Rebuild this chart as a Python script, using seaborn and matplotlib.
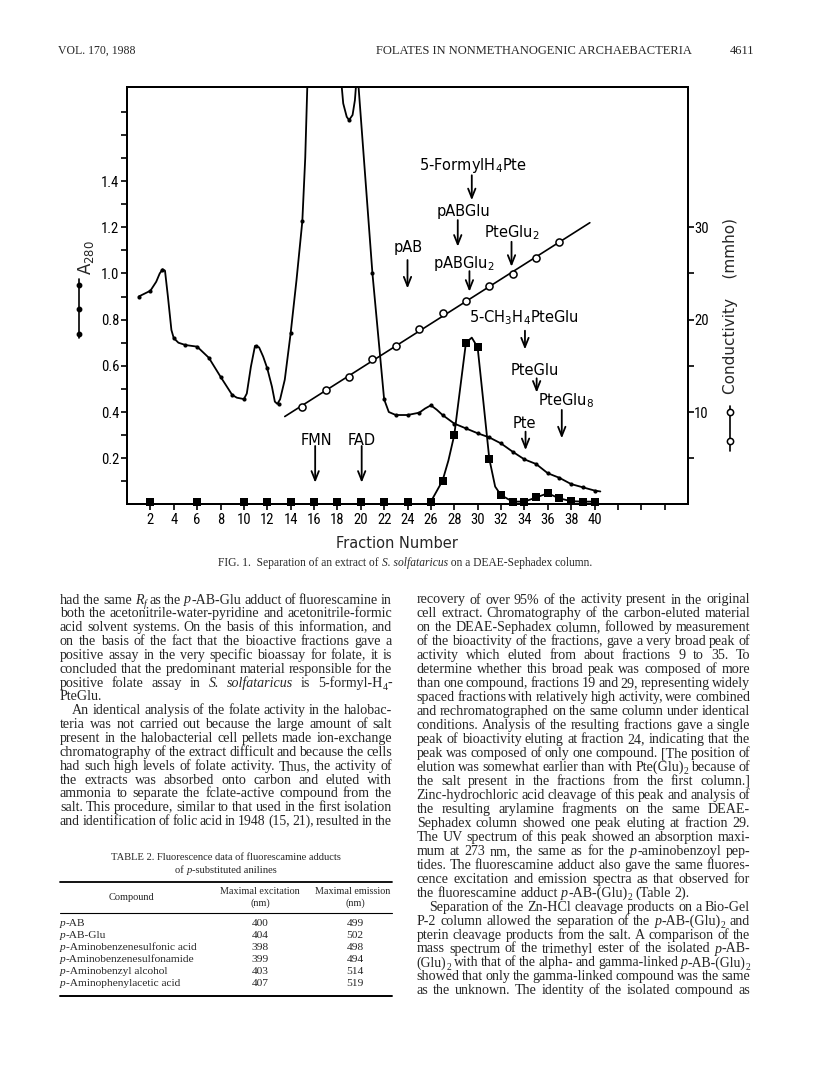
import re
import numpy as np
import pandas as pd
import matplotlib
matplotlib.use("Agg")
import matplotlib.pyplot as plt
from matplotlib.lines import Line2D
from matplotlib.transforms import IdentityTransform
import seaborn as sns

# ---- FIG. 1 data ----
# A280 (small dots), fraction number -> absorbance
a280_frac = [1, 2, 3, 4, 5, 6, 7, 8, 9, 10, 11, 12, 13, 14, 15, 19,
             21, 22, 23, 24, 25, 26, 27, 28, 29, 30, 31, 32, 33, 34, 35, 36, 37, 38, 39, 40]
a280_val = [0.90, 0.925, 1.015, 0.72, 0.69, 0.683, 0.635, 0.553, 0.474, 0.456, 0.686, 0.589, 0.435, 0.74, 1.225, 1.664,
            1.0, 0.455, 0.387, 0.387, 0.397, 0.429, 0.387, 0.35, 0.329, 0.308, 0.29, 0.264, 0.228, 0.195, 0.175, 0.135,
            0.115, 0.088, 0.074, 0.06]

# the hand drawn A280 trace, it leaves the top of the plot twice
trace1_frac = [1, 2, 2.5, 2.8, 3.05, 3.25, 3.5, 3.8, 4, 4.4, 5, 6, 7, 8, 9, 9.4, 10, 10.25, 10.6, 10.95,
               11.3, 11.65, 12, 12.4, 12.65, 12.86, 13.1, 13.5, 14, 14.5, 15, 15.25, 15.45]
trace1_val = [0.90, 0.925, 0.964, 1.0, 1.018, 1.012, 0.90, 0.755, 0.72, 0.70, 0.69, 0.683, 0.635, 0.553, 0.474, 0.462,
              0.456, 0.48, 0.596, 0.686, 0.68, 0.64, 0.589, 0.51, 0.445, 0.435, 0.455, 0.54, 0.74, 0.97, 1.225, 1.5, 1.85]
trace2_frac = [18.3, 18.5, 18.8, 19.0, 19.3, 19.5, 19.65]
trace2_val = [1.85, 1.736, 1.678, 1.664, 1.686, 1.75, 1.85]
trace3_frac = [19.75, 21, 22, 22.4, 23, 24, 25, 25.5, 26, 26.5, 27, 28, 29, 30, 31, 32, 33, 34, 35, 36, 37,
               38, 39, 40, 40.5]
trace3_val = [1.85, 1.0, 0.455, 0.40, 0.387, 0.387, 0.397, 0.415, 0.429, 0.41, 0.387, 0.35, 0.329, 0.308, 0.29,
              0.264, 0.228, 0.195, 0.175, 0.135, 0.115, 0.088, 0.074, 0.06, 0.056]

# bioactivity (filled squares), plotted on the A280 scale
bio_frac = [2, 6, 10, 12, 14, 16, 18, 20, 22, 24, 26, 27, 28, 29, 30, 31, 32, 33, 34, 35, 36, 37, 38, 39, 40]
bio_val = [0.012, 0.012, 0.012, 0.012, 0.012, 0.012, 0.012, 0.012, 0.012, 0.012, 0.012, 0.103, 0.30, 0.70, 0.68,
           0.197, 0.04, 0.012, 0.012, 0.03, 0.048, 0.026, 0.014, 0.012, 0.012]
bio_trace_frac = [26, 27, 27.5, 28, 28.5, 29, 29.5, 30, 30.5, 31, 31.5, 32, 33, 34, 35, 36, 37, 38, 39, 40]
bio_trace_val = [0.012, 0.103, 0.19, 0.30, 0.50, 0.70, 0.722, 0.68, 0.44, 0.197, 0.077, 0.04, 0.012, 0.012, 0.03,
                 0.048, 0.026, 0.014, 0.012, 0.012]

# conductivity (open circles) and the span of the straight line through them
cond_frac = [15, 17, 19, 21, 23, 25, 27, 29, 31, 33, 35, 37]
cond_val = [10.5, 12.35, 13.8, 15.7, 17.1, 18.95, 20.7, 22.0, 23.6, 24.9, 26.7, 28.4]
cond_line_frac = [13.5, 39.6]

x_ticks = [2, 4, 6, 8, 10, 12, 14, 16, 18, 20, 22, 24, 26, 28, 30, 32, 34, 36, 38, 40, 42, 44, 46]
x_tick_labels = ["2", "4", "6", "8", "10", "12", "14", "16", "18", "20", "22", "24", "26", "28", "30", "32",
                 "34", "36", "38", "40", "", "", ""]
y_ticks = [0.1, 0.2, 0.3, 0.4, 0.5, 0.6, 0.7, 0.8, 0.9, 1.0, 1.1, 1.2, 1.3, 1.4, 1.5, 1.6, 1.7]
y_tick_labels = ["", "0.2", "", "0.4", "", "0.6", "", "0.8", "", "1.0", "", "1.2", "", "1.4", "", "", ""]
cond_ticks = [5, 10, 15, 20, 25, 30]
cond_tick_labels = ["", "10", "", "20", "", "30"]

# elution positions of the standards: label, text x, text y, arrow x, arrow from, arrow to
standards = [
    (r"5-Formyl$\mathsf{H_4}$Pte", 29.6, 1.447, 29.5, 1.425, 1.317),
    ("pABGlu", 28.8, 1.249, 28.3, 1.231, 1.116),
    (r"PteGl$\mathsf{u_2}$", 32.9, 1.158, 32.9, 1.137, 1.029),
    ("pAB", 24.1, 1.094, 24.0, 1.058, 0.935),
    (r"pABGl$\mathsf{u_2}$", 28.8, 1.022, 29.3, 1.010, 0.921),
    (r"5-C$\mathsf{H_3H_4}$PteGlu", 34.0, 0.788, 34.05, 0.752, 0.671),
    ("PteGlu", 34.9, 0.560, 35.05, 0.546, 0.484),
    (r"PteGl$\mathsf{u_8}$", 37.6, 0.430, 37.2, 0.409, 0.286),
    ("Pte", 34.0, 0.329, 34.1, 0.315, 0.235),
    ("FMN", 16.2, 0.257, 16.1, 0.253, 0.094),
    ("FAD", 20.1, 0.257, 20.08, 0.253, 0.094),
]

# TABLE 2  (*...* = italic, _{...} = subscript)
table_compound = ["*p*-AB", "*p*-AB-Glu", "*p*-Aminobenzenesulfonic acid", "*p*-Aminobenzenesulfonamide",
                  "*p*-Aminobenzyl alcohol", "*p*-Aminophenylacetic acid"]
table_excitation = [400, 404, 398, 399, 403, 407]
table_emission = [499, 502, 498, 494, 514, 519]

left_lines = [
    "had the same *R*_{*f*} as the *p*-AB-Glu adduct of fluorescamine in",
    "both the acetonitrile-water-pyridine and acetonitrile-formic",
    "acid solvent systems. On the basis of this information, and",
    "on the basis of the fact that the bioactive fractions gave a",
    "positive assay in the very specific bioassay for folate, it is",
    "concluded that the predominant material responsible for the",
    "positive folate assay in *S.* *solfataricus* is 5-formyl-H_{4}-",
    "PteGlu.",
    "An identical analysis of the folate activity in the halobac-",
    "teria was not carried out because the large amount of salt",
    "present in the halobacterial cell pellets made ion-exchange",
    "chromatography of the extract difficult and because the cells",
    "had such high levels of folate activity. Thus, the activity of",
    "the extracts was absorbed onto carbon and eluted with",
    "ammonia to separate the fclate-active compound from the",
    "salt. This procedure, similar to that used in the first isolation",
    "and identification of folic acid in 1948 (15, 21), resulted in the",
]
left_last = [7]
left_indent = [8]

right_lines = [
    "recovery of over 95% of the activity present in the original",
    "cell extract. Chromatography of the carbon-eluted material",
    "on the DEAE-Sephadex column, followed by measurement",
    "of the bioactivity of the fractions, gave a very broad peak of",
    "activity which eluted from about fractions 9 to 35. To",
    "determine whether this broad peak was composed of more",
    "than one compound, fractions 19 and 29, representing widely",
    "spaced fractions with relatively high activity, were combined",
    "and rechromatographed on the same column under identical",
    "conditions. Analysis of the resulting fractions gave a single",
    "peak of bioactivity eluting at fraction 24, indicating that the",
    "peak was composed of only one compound. [The position of",
    "elution was somewhat earlier than with Pte(Glu)_{2} because of",
    "the salt present in the fractions from the first column.]",
    "Zinc-hydrochloric acid cleavage of this peak and analysis of",
    "the resulting arylamine fragments on the same DEAE-",
    "Sephadex column showed one peak eluting at fraction 29.",
    "The UV spectrum of this peak showed an absorption maxi-",
    "mum at 273 nm, the same as for the *p*-aminobenzoyl pep-",
    "tides. The fluorescamine adduct also gave the same fluores-",
    "cence excitation and emission spectra as that observed for",
    "the fluorescamine adduct *p*-AB-(Glu)_{2} (Table 2).",
    "Separation of the Zn-HCl cleavage products on a Bio-Gel",
    "P-2 column allowed the separation of the *p*-AB-(Glu)_{2} and",
    "pterin cleavage products from the salt. A comparison of the",
    "mass spectrum of the trimethyl ester of the isolated *p*-AB-",
    "(Glu)_{2} with that of the alpha- and gamma-linked *p*-AB-(Glu)_{2}",
    "showed that only the gamma-linked compound was the same",
    "as the unknown. The identity of the isolated compound as",
]
right_last = [21]
right_indent = [22]

# ---- style ----
sns.set_theme(style="ticks")
plt.rcParams["font.family"] = ["DejaVu Sans"]
plt.rcParams["mathtext.fontset"] = "custom"
plt.rcParams["mathtext.rm"] = "DejaVu Sans"
plt.rcParams["mathtext.sf"] = "DejaVu Sans"
SERIF = ["Liberation Serif", "DejaVu Serif"]
NARROW = ["Liberation Sans Narrow", "Roboto Condensed", "DejaVu Sans"]

W, H = 816, 1078
fig = plt.figure(figsize=(W / 100, H / 100), dpi=100)
fig.patch.set_facecolor("white")

ax = fig.add_axes([127 / W, 1 - 504.4 / H, (688 - 127) / W, (504.4 - 87.5) / H])
ax.set_facecolor("white")
ax2 = ax.twinx()

# A280 trace and dots
trace = pd.DataFrame({
    "frac": trace1_frac + trace2_frac + trace3_frac,
    "a280": trace1_val + trace2_val + trace3_val,
    "piece": [1] * len(trace1_frac) + [2] * len(trace2_frac) + [3] * len(trace3_frac),
})
sns.lineplot(data=trace, x="frac", y="a280", units="piece", estimator=None, sort=False,
             color="black", lw=1.3, ax=ax, legend=False)
sns.scatterplot(x=a280_frac, y=a280_val, color="black", s=9, linewidth=0, ax=ax, zorder=3)

# bioactivity
sns.lineplot(x=bio_trace_frac, y=bio_trace_val, estimator=None, sort=False, color="black", lw=1.3, ax=ax)
sns.scatterplot(x=bio_frac, y=bio_val, marker="s", color="black", s=38, linewidth=0, ax=ax,
                zorder=4, clip_on=False)

for label, tx, ty, axx, y0, y1 in standards:
    ax.text(tx, ty, label, ha="center", va="baseline", fontsize=10.5, color="black")
    ax.annotate("", xy=(axx, y1), xytext=(axx, y0),
                arrowprops=dict(arrowstyle="->,head_length=0.55,head_width=0.22", color="black", lw=1.3,
                                shrinkA=0, shrinkB=0))

# conductivity on the right axis: straight line fitted through the circles
slope, icpt = np.polyfit(cond_frac, cond_val, 1)
cond_line = [slope * f + icpt for f in cond_line_frac]
sns.lineplot(x=cond_line_frac, y=cond_line, color="black", lw=1.2, ax=ax2)
sns.scatterplot(x=cond_frac, y=cond_val, color="white", edgecolor="black", linewidth=1.1, s=26, ax=ax2, zorder=3)

ax.set_xlim(0, 48)
ax.set_ylim(0, 1.805)
ax2.set_ylim(0, 1.805 * 25)
ax.set_xticks(x_ticks)
ax.set_xticklabels(x_tick_labels)
ax.set_yticks(y_ticks)
ax.set_yticklabels(y_tick_labels)
ax2.set_yticks(cond_ticks)
ax2.set_yticklabels(cond_tick_labels)
ax.set_xlabel("")
ax.set_ylabel("")
ax2.set_ylabel("")

for a in (ax, ax2):
    for sp in a.spines.values():
        sp.set_visible(True)
        sp.set_color("black")
        sp.set_linewidth(1.4)
ax.tick_params(axis="x", direction="out", length=4, width=1.2, pad=2, labelsize=10.5,
               colors="black", labelfontfamily=NARROW)
ax.tick_params(axis="y", direction="out", length=4, width=1.2, pad=1.5, labelsize=10.5,
               colors="black", labelfontfamily=NARROW, right=False)
ax2.tick_params(axis="y", direction="out", length=4, width=1.2, pad=0.5, labelsize=10.5,
                colors="black", labelfontfamily=NARROW)


def page_text(x, y, s, **kw):
    return fig.text(x, H - y, s, transform=IdentityTransform(), **kw)


# axis titles and their little symbol keys
page_text(397, 543, "Fraction Number", ha="center", va="center", fontsize=10.5)
page_text(86, 258, r"$\mathsf{A_{280}}$", ha="center", va="center", rotation=90, fontsize=12)
page_text(731, 306, "Conductivity    (mmho)", ha="center", va="center", rotation=90, fontsize=11)
fig.add_artist(Line2D([79.3, 79.3], [H - 279, H - 338], transform=IdentityTransform(), color="black", lw=1.2))
fig.add_artist(Line2D([79.3, 79.3, 79.3], [H - 285, H - 309, H - 334], transform=IdentityTransform(),
                      color="black", ls="none", marker="o", ms=3.2))
fig.add_artist(Line2D([730.3, 730.3], [H - 406, H - 451], transform=IdentityTransform(), color="black", lw=1.2))
fig.add_artist(Line2D([730.3, 730.3], [H - 412, H - 441], transform=IdentityTransform(), color="black",
                      ls="none", marker="o", ms=4.5, mfc="white", mew=1.1))

renderer = fig.canvas.get_renderer()
PIECE = re.compile(r"\*([^*]+)\*|_\{([^}]+)\}|([^*_]+)")


def make_rich(s, size):
    # serif text pieces: *italic*, _{subscript}, plain
    pieces = []
    for m in PIECE.finditer(s):
        ital, sub, plain = m.groups()
        if ital:
            t = page_text(0, 0, ital, fontsize=size, family=SERIF, style="italic", va="baseline")
            dy = 0
        elif sub:
            it = sub.startswith("*")
            t = page_text(0, 0, sub.strip("*"), fontsize=size * 0.7, family=SERIF,
                          style="italic" if it else "normal", va="baseline")
            dy = size * 100 / 72 * 0.22
        else:
            t = page_text(0, 0, plain, fontsize=size, family=SERIF, va="baseline")
            dy = 0
        pieces.append((t, t.get_window_extent(renderer).width, dy))
    return pieces, sum(p[1] for p in pieces)


def put_rich(pieces, x, y):
    for t, w, dy in pieces:
        t.set_position((x, H - y - dy))
        x += w


def rich_text(x, y, s, size, ha="left"):
    pieces, width = make_rich(s, size)
    if ha == "center":
        x -= width / 2
    elif ha == "right":
        x -= width
    put_rich(pieces, x, y)


def set_line(s, x0, x1, y, size, justify):
    # justified body line; shrink a crowded line a little so words never touch
    words = s.split(" ")
    while True:
        built = [make_rich(w, size) for w in words]
        widths = [b[1] for b in built]
        gap = size * 100 / 72 * 0.25
        if justify and len(words) > 1:
            gap = (x1 - x0 - sum(widths)) / (len(words) - 1)
        if gap >= 2.2 or size < 8.8:
            break
        for pieces, _ in built:
            for t, _, _ in pieces:
                t.remove()
        size -= 0.15
    x = x0
    for (pieces, w) in built:
        put_rich(pieces, x, y)
        x += w + gap


# page header and figure caption
rich_text(58, 54, "VOL. 170, 1988", 8.5)
rich_text(376, 54, "FOLATES IN NONMETHANOGENIC ARCHAEBACTERIA", 9)
rich_text(754, 54, "4611", 9, ha="right")
rich_text(405, 566, "FIG. 1.  Separation of an extract of *S. solfataricus* on a DEAE-Sephadex column.",
          8.3, ha="center")

for i, s in enumerate(left_lines):
    x0 = 60 + (12 if i in left_indent else 0)
    set_line(s, x0, 392, 603.5 + i * 13.85, 10.1, i not in left_last)
for i, s in enumerate(right_lines):
    x0 = 416.7 + (12 if i in right_indent else 0)
    set_line(s, x0, 750, 603.5 + i * 13.96, 10.1, i not in right_last)

# TABLE 2
rich_text(226, 860, "TABLE 2. Fluorescence data of fluorescamine adducts", 7.6, ha="center")
rich_text(226, 873, "of *p*-substituted anilines", 7.6, ha="center")
fig.add_artist(Line2D([60, 392], [H - 882, H - 882], transform=IdentityTransform(), color="black", lw=1.3))
rich_text(131.7, 900, "Compound", 7.5, ha="center")
rich_text(260, 894, "Maximal excitation", 7.3, ha="center")
rich_text(260, 906, "(nm)", 7.3, ha="center")
rich_text(353, 894, "Maximal emission", 7.3, ha="center")
rich_text(355, 906, "(nm)", 7.3, ha="center")
fig.add_artist(Line2D([60, 392], [H - 912.5, H - 912.5], transform=IdentityTransform(), color="black", lw=0.8))
for i, (cmp, ex, em) in enumerate(zip(table_compound, table_excitation, table_emission)):
    yb = 926 + i * 12.1
    rich_text(60, yb, cmp, 8.2)
    rich_text(260, yb, str(ex), 8.2, ha="center")
    rich_text(355, yb, str(em), 8.2, ha="center")
fig.add_artist(Line2D([60, 392], [H - 996, H - 996], transform=IdentityTransform(), color="black", lw=1.4))

fig.savefig("out.png", dpi=100, facecolor="white")
